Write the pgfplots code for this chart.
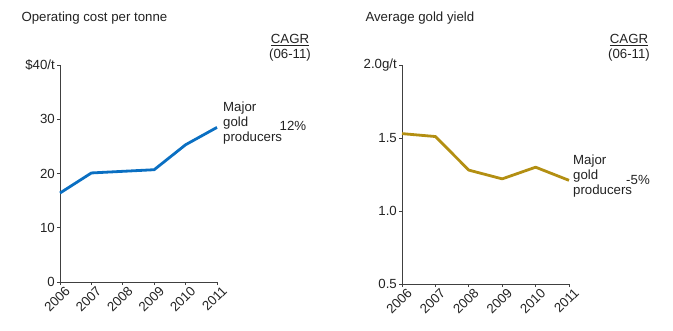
\documentclass[border=0pt]{standalone}
\usepackage{fontspec}
\setmainfont{Liberation Sans}
\usepackage{pgfplots}
\pgfplotsset{compat=1.18}
\definecolor{cblue}{HTML}{0A6FC2}
\definecolor{cgold}{HTML}{B38F12}
\definecolor{axgray}{HTML}{404040}
\definecolor{txt}{HTML}{222222}
\newcommand{\fs}{\fontsize{13.3}{15}\selectfont}
\newcommand{\ft}{\fontsize{13.3}{15}\selectfont}
\begin{document}
\begin{tikzpicture}
\useasboundingbox (0bp,0bp) rectangle (673bp,331bp);
\pgfplotsset{
  myax/.style={
    scale only axis, axis lines=left,
    axis line style={-, axgray, line width=0.8bp},
    tick align=outside, major tick length=3bp,
    tick style={axgray, line width=0.8bp},
    xmin=2006, xmax=2011, xtick={2006,2007,2008,2009,2010,2011},
    xticklabels={2006,2007,2008,2009,2010,2011},
    xticklabel style={rotate=45, anchor=north east, font=\fs, text=txt, inner sep=1bp, xshift=4bp, yshift=-2bp},
    yticklabel style={font=\fs, text=txt, inner sep=2bp},
    /pgf/number format/assume math mode=true,
    clip=false, anchor=south west
  }
}
\begin{axis}[myax, at={(60bp,49bp)}, width=157bp, height=217bp,
  ymin=0, ymax=40, ytick={0,10,20,30,40}, yticklabels={0,10,20,30,\$40/t}]
\addplot[cblue, line width=2.8bp, line join=round] coordinates {
  (2006,16.4) (2007,20.1) (2008,20.4) (2009,20.7) (2010,25.3) (2011,28.5)};
\end{axis}
\begin{axis}[myax, at={(402bp,47bp)}, width=167bp, height=219bp,
  ymin=0.5, ymax=2.0, ytick={0.5,1.0,1.5,2.0}, yticklabels={0.5,1.0,1.5,2.0g/t}]
\addplot[cgold, line width=2.8bp, line join=round] coordinates {
  (2006,1.53) (2007,1.51) (2008,1.28) (2009,1.22) (2010,1.30) (2011,1.21)};
\end{axis}
\begin{scope}[every node/.style={font=\fs, text=txt}]
\node[anchor=west, font=\ft] at (18bp,313bp) {Operating cost per tonne};
\node at (290bp,291bp) {\underline{CAGR}};
\node at (290bp,276bp) {(06-11)};
\node[anchor=north west, align=left, inner sep=0pt] at (223bp,229bp) {Major\\gold\\producers};
\node at (293bp,205bp) {12\%};
\node[anchor=west, font=\ft] at (362bp,313bp) {Average gold yield};
\node at (629bp,291bp) {\underline{CAGR}};
\node at (629bp,276bp) {(06-11)};
\node[anchor=north west, align=left, inner sep=0pt] at (573bp,176bp) {Major\\gold\\producers};
\node at (638bp,151bp) {-5\%};
\end{scope}
\end{tikzpicture}
\end{document}
